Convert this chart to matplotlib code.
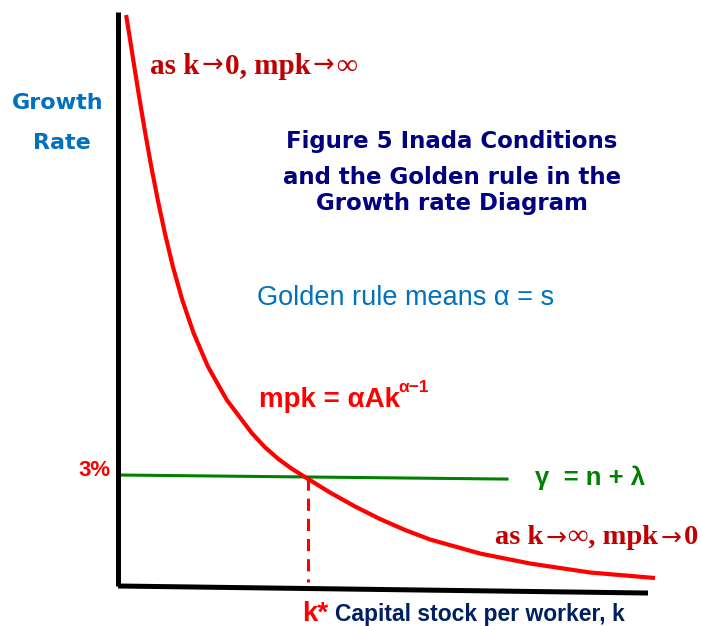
import matplotlib
matplotlib.use("Agg")
import matplotlib.pyplot as plt

# ---------------- data ----------------
k_vals = [0.153, 0.208, 0.308, 0.409, 0.515, 0.628, 0.751, 0.885, 1.036, 1.213,
          1.428, 1.698, 2.053, 2.528, 2.778, 3.028, 3.278, 3.528, 4.000, 4.472,
          4.943, 5.415, 5.887, 6.830, 7.774, 8.906, 10.132]
mpk_vals = [15.432, 14.946, 14.035, 13.135, 12.235, 11.332, 10.432, 9.532, 8.630, 7.730,
            6.830, 5.927, 5.027, 4.127, 3.743, 3.430, 3.170, 2.946, 2.527, 2.149,
            1.811, 1.514, 1.257, 0.878, 0.608, 0.365, 0.216]
gamma_k = [0.0, 7.34]
gamma_vals = [3.0, 2.89]
k_star = 3.585
k_star_rate = 2.93
xaxis_k = [0.0, 10.0]
xaxis_y = [0.0, -0.19]
yaxis_top = 15.51
ytick_label = "3%"

# ---------------- figure ----------------
W, H = 701, 626
fig = plt.figure(figsize=(W / 100, H / 100), dpi=100)
ax = fig.add_axes([0, 0, 1, 1])
# pixel mapping: origin at (118, 586), 53 px per k unit, 37 px per percent
x0, y0, sx, sy = 118, 586, 53.0, 37.0
ax.set_xlim(-x0 / sx, (W - x0) / sx)
ax.set_ylim((y0 - H) / sy, y0 / sy)
ax.axis("off")

# axes lines
ax.plot([0, 0], [0, yaxis_top], color="black", lw=3.6, solid_capstyle="butt", zorder=3)
ax.plot(xaxis_k, xaxis_y, color="black", lw=3.6, solid_capstyle="butt", zorder=3)

# growth line
ax.plot(gamma_k, gamma_vals, color="#008000", lw=2.2, zorder=2)

# mpk curve
ax.plot(k_vals, mpk_vals, color="#FF0000", lw=3.0, solid_capstyle="butt",
        solid_joinstyle="round", zorder=4)

# dashed k* line
ax.plot([k_star, k_star], [k_star_rate, 0.1], color="#FF0000", lw=2.2,
        dashes=(4, 2.6), zorder=2)


def fpos(px, py):
    return px / W, 1 - py / H


renderer = fig.canvas.get_renderer()


def seq_text(px, py, pieces, color, gap=2):
    """Draw consecutive text pieces starting at pixel (px, py) (centre line)."""
    x = px
    for s, fam, size, weight in pieces:
        t = fig.text(*fpos(x, py), s, color=color, fontsize=size, fontweight=weight,
                     family=fam, ha="left", va="center")
        bb = t.get_window_extent(renderer=renderer)
        x += bb.width + gap
    return x


SERIF = ["Liberation Serif", "DejaVu Serif"]
ARROW = ["DejaVu Sans"]

# ---------------- texts ----------------
fig.text(*fpos(58, 103), "Growth", color="#0070C0", fontsize=16, fontweight="bold",
         family="DejaVu Sans", ha="center", va="center")
fig.text(*fpos(62, 143), "Rate", color="#0070C0", fontsize=16, fontweight="bold",
         family="DejaVu Sans", ha="center", va="center")

fig.text(*fpos(452, 142), "Figure 5 Inada Conditions", color="#000080", fontsize=16.5,
         fontweight="bold", family="DejaVu Sans", ha="center", va="center")
fig.text(*fpos(452, 177), "and the Golden rule in the", color="#000080", fontsize=16.5,
         fontweight="bold", family="DejaVu Sans", ha="center", va="center")
fig.text(*fpos(452, 203), "Growth rate Diagram", color="#000080", fontsize=16.5,
         fontweight="bold", family="DejaVu Sans", ha="center", va="center")

fig.text(*fpos(257, 298), "Golden rule means α = s", color="#0070C0", fontsize=19.5,
         family=["Liberation Sans", "DejaVu Sans"], ha="left", va="center")

fig.text(*fpos(259, 407), "mpk = αAk", color="#FF0000", fontsize=20, fontweight="bold",
         family=["Liberation Sans", "DejaVu Sans"], ha="left", va="baseline")
fig.text(*fpos(398, 392), "α−1", color="#FF0000", fontsize=12.5, fontweight="bold",
         family=["Liberation Sans", "DejaVu Sans"], ha="left", va="baseline")

fig.text(*fpos(111, 470), ytick_label, color="#FF0000", fontsize=16, fontweight="bold",
         family=["Liberation Sans", "DejaVu Sans"], ha="right", va="center")

fig.text(*fpos(535, 478), "γ  = n + λ", color="#008000", fontsize=18.5, fontweight="bold",
         family=["Liberation Sans", "DejaVu Sans"], ha="left", va="center")

seq_text(150, 66, [("as k", SERIF, 21, "bold"),
                   ("→", ARROW, 18.5, "normal"),
                   ("0, mpk", SERIF, 21, "bold"),
                   ("→", ARROW, 18.5, "normal"),
                   ("∞", SERIF, 21, "bold")], color="#C00000")
seq_text(495, 538, [("as k", SERIF, 20.5, "bold"),
                    ("→", ARROW, 18, "normal"),
                    ("∞, mpk", SERIF, 20.5, "bold"),
                    ("→", ARROW, 18, "normal"),
                    ("0", SERIF, 20.5, "bold")], color="#C00000")

fig.text(*fpos(302, 621), "k*", color="#FF0000", fontsize=20, fontweight="bold",
         family=["Liberation Sans", "DejaVu Sans"], ha="left", va="baseline")
fig.text(*fpos(335, 621), "Capital stock per worker, k", color="#002060", fontsize=16.5,
         fontweight="bold", family=["Liberation Sans", "DejaVu Sans"], ha="left", va="baseline")

fig.savefig("out.png", dpi=100)
